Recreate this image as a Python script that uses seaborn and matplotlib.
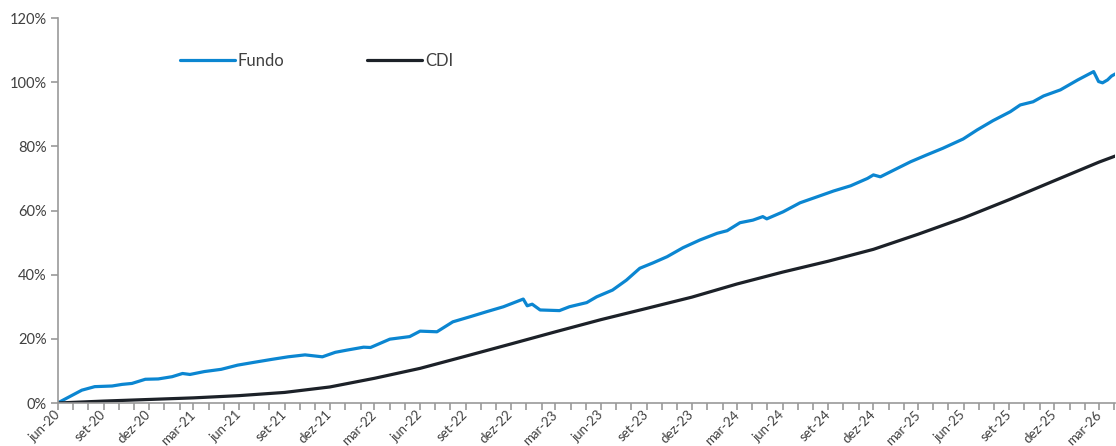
import matplotlib
matplotlib.use("Agg")
import matplotlib.pyplot as plt
import matplotlib.dates as mdates
from matplotlib.lines import Line2D
from matplotlib.ticker import FuncFormatter
import pandas as pd
import seaborn as sns

# Fundo - retorno acumulado (%)
fundo_datas = [
    "2020-06-01", "2020-06-05", "2020-07-19", "2020-08-14", "2020-09-18", "2020-10-08",
    "2020-10-28", "2020-11-24", "2020-12-20", "2021-01-17", "2021-02-07", "2021-02-22",
    "2021-03-23", "2021-04-26", "2021-05-29", "2021-07-02", "2021-08-06", "2021-09-08",
    "2021-10-12", "2021-11-16", "2021-12-12", "2022-01-05", "2022-02-07", "2022-02-21",
    "2022-04-01", "2022-05-11", "2022-06-01", "2022-07-05", "2022-08-06", "2022-09-10",
    "2022-10-14", "2022-11-16", "2022-12-26", "2023-01-03", "2023-01-13", "2023-01-29",
    "2023-03-09", "2023-03-29", "2023-05-03", "2023-05-23", "2023-06-24", "2023-07-22",
    "2023-08-18", "2023-09-14", "2023-10-12", "2023-11-13", "2023-12-17", "2024-01-21",
    "2024-02-10", "2024-03-07", "2024-04-02", "2024-04-22", "2024-04-30", "2024-06-02",
    "2024-07-06", "2024-08-10", "2024-09-12", "2024-10-16", "2024-11-19", "2024-12-01",
    "2024-12-15", "2025-01-19", "2025-02-14", "2025-03-18", "2025-04-20", "2025-05-31",
    "2025-06-28", "2025-07-30", "2025-09-03", "2025-09-23", "2025-10-19", "2025-11-09",
    "2025-12-13", "2026-01-17", "2026-02-18", "2026-02-28", "2026-03-08", "2026-03-18",
    "2026-03-26", "2026-04-03",
]
fundo_valores = [
    0.0, 0.4, 4.0, 5.1, 5.3, 5.8,
    6.1, 7.4, 7.5, 8.2, 9.2, 8.9,
    9.8, 10.5, 11.8, 12.7, 13.6, 14.4,
    15.0, 14.4, 15.8, 16.5, 17.4, 17.3,
    19.9, 20.7, 22.4, 22.2, 25.3, 26.9,
    28.5, 30.0, 32.4, 30.3, 30.8, 29.0,
    28.8, 30.0, 31.3, 33.1, 35.2, 38.3,
    42.0, 43.7, 45.6, 48.4, 50.8, 52.9,
    53.7, 56.2, 57.0, 58.1, 57.4, 59.6,
    62.4, 64.3, 66.1, 67.7, 70.0, 71.1,
    70.5, 73.2, 75.2, 77.3, 79.4, 82.3,
    85.1, 88.0, 90.8, 92.9, 93.9, 95.7,
    97.6, 100.7, 103.3, 100.2, 99.8, 100.7,
    101.9, 102.6,
]

# CDI - retorno acumulado (%)
cdi_datas = [
    "2020-06-01", "2020-09-01", "2020-12-01", "2021-03-01", "2021-06-01", "2021-09-01",
    "2021-12-01", "2022-03-01", "2022-06-01", "2022-09-01", "2022-12-01", "2023-03-01",
    "2023-06-01", "2023-09-01", "2023-12-01", "2024-03-01", "2024-06-01", "2024-09-01",
    "2024-12-01", "2025-03-01", "2025-06-01", "2025-09-01", "2025-12-01", "2026-03-01",
    "2026-04-03",
]
cdi_valores = [
    0.0, 0.6, 1.1, 1.6, 2.3, 3.3,
    5.0, 7.7, 10.8, 14.6, 18.4, 22.2,
    26.0, 29.5, 33.0, 37.1, 40.8, 44.2,
    47.9, 52.6, 57.7, 63.4, 69.3, 75.1,
    77.0,
]

tick_datas = [
    "2020-06-01", "2020-09-01", "2020-12-01", "2021-03-01", "2021-06-01", "2021-09-01",
    "2021-12-01", "2022-03-01", "2022-06-01", "2022-09-01", "2022-12-01", "2023-03-01",
    "2023-06-01", "2023-09-01", "2023-12-01", "2024-03-01", "2024-06-01", "2024-09-01",
    "2024-12-01", "2025-03-01", "2025-06-01", "2025-09-01", "2025-12-01", "2026-03-01",
]
tick_labels = [
    "jun-20", "set-20", "dez-20", "mar-21", "jun-21", "set-21",
    "dez-21", "mar-22", "jun-22", "set-22", "dez-22", "mar-23",
    "jun-23", "set-23", "dez-23", "mar-24", "jun-24", "set-24",
    "dez-24", "mar-25", "jun-25", "set-25", "dez-25", "mar-26",
]

cores = {"Fundo": "#0B86D1", "CDI": "#1C2128"}

df = pd.concat([
    pd.DataFrame({"data": pd.to_datetime(fundo_datas), "valor": fundo_valores, "serie": "Fundo"}),
    pd.DataFrame({"data": pd.to_datetime(cdi_datas), "valor": cdi_valores, "serie": "CDI"}),
])

sns.set_style("white")
plt.rcParams["font.family"] = ["Lato", "DejaVu Sans"]

cor_texto = "#404040"
cor_eixo = "#999999"

fig, ax = plt.subplots(figsize=(11.16, 4.46), dpi=100)
fig.subplots_adjust(left=0.052, right=0.9995, bottom=0.0964, top=0.9596)

sns.lineplot(data=df, x="data", y="valor", hue="serie", palette=cores,
             linewidth=2.3, ax=ax, legend=False)

ax.set_xlim(pd.Timestamp("2020-06-01"), pd.Timestamp("2026-04-03"))
ax.set_ylim(0, 120)
ax.set_yticks(range(0, 121, 20))
ax.yaxis.set_major_formatter(FuncFormatter(lambda v, p: f"{v:.0f}%"))

ax.set_xticks(pd.to_datetime(tick_datas))
ax.set_xticklabels(tick_labels, rotation=45, ha="right", va="center",
                   rotation_mode="anchor")
ax.xaxis.set_minor_locator(mdates.MonthLocator())

ax.set_xlabel("")
ax.set_ylabel("")
for lado in ["top", "right"]:
    ax.spines[lado].set_visible(False)
for lado in ["left", "bottom"]:
    ax.spines[lado].set_color(cor_eixo)
    ax.spines[lado].set_linewidth(1.2)

ax.tick_params(axis="y", which="major", direction="out", length=5, width=1.2,
               color=cor_eixo, labelsize=10.5, labelcolor=cor_texto, pad=3, left=True)
ax.tick_params(axis="x", which="both", direction="out", length=5, width=1.2,
               color=cor_eixo, labelsize=9.5, labelcolor=cor_texto, pad=2, bottom=True)

# legenda
handles = [Line2D([], [], color=cores["Fundo"], linewidth=2.3),
           Line2D([], [], color=cores["CDI"], linewidth=2.3)]
leg = ax.legend(handles, ["Fundo", "CDI"], ncol=2, frameon=False,
                loc="center left", bbox_to_anchor=(0.101, 0.888),
                handlelength=3.3, handletextpad=0.15, columnspacing=5.0,
                fontsize=12)
for t in leg.get_texts():
    t.set_color(cor_texto)

fig.savefig("out.png", dpi=100)
